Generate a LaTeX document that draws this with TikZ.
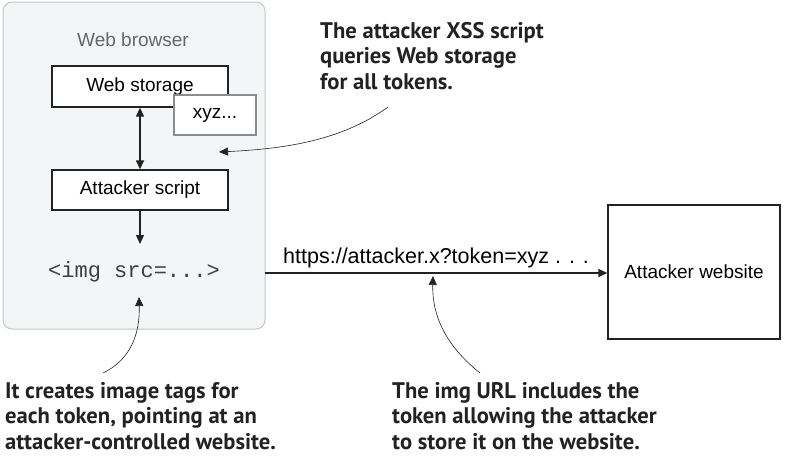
\documentclass[tikz,border=0pt]{standalone}
\usepackage{fontspec}
\setmainfont{Liberation Sans}
\setmonofont{Liberation Mono}
\newfontfamily\callfont{PT Sans}
\usetikzlibrary{arrows.meta}
\definecolor{bfill}{HTML}{F4F5F6}
\definecolor{bline}{HTML}{C4C6C8}
\definecolor{dark}{HTML}{222222}
\begin{document}
\begin{tikzpicture}[x=1pt,y=-1pt,
  box/.style={draw=dark,line width=1.3pt,fill=white,inner sep=0pt},
  conn/.style={draw=dark,line width=1.3pt,-{Triangle[length=9pt,width=8pt]}},
  callout/.style={draw=dark,line width=0.6pt,-{Triangle[length=9pt,width=8pt]}},
  lbl/.style={font=\fontsize{19}{22}\selectfont,text=black},
  note/.style={font=\callfont\bfseries\fontsize{22.6}{25.5}\selectfont,text=dark,align=left,inner sep=0pt}]
\useasboundingbox (0,0) rectangle (789,461);
% browser
\draw[draw=bline,fill=bfill,line width=1pt,rounded corners=9pt] (3,2) rectangle (265,329);
\node[lbl,text=black!60] (wb) at (133,40) {Web browser};
\node[box,minimum width=176pt,minimum height=41pt,lbl] (ws) at (140,86.5) {\raisebox{4pt}{Web storage}};
\node[draw=black!45,line width=1.2pt,fill=white,minimum width=82pt,minimum height=40pt,lbl,inner sep=0pt] (xyz) at (215,115) {xyz...};
\node[box,minimum width=176pt,minimum height=40pt,lbl] (as) at (140,190) {Attacker script};
\node[font=\ttfamily\fontsize{22}{26}\selectfont,text=black!75] (img) at (134,272) {<img src=...>};
\coordinate (imgtop) at (140,244);
\draw[conn,{Triangle[length=9pt,width=8pt]}-{Triangle[length=9pt,width=8pt]}] (ws.south -| 140,0) -- (as.north -| 140,0);
\draw[conn] (as.south -| 140,0) -- (imgtop);
% website
\node[box,minimum width=172pt,minimum height=134pt,lbl] (site) at (694,272) {Attacker website};
\coordinate (bx) at (265,273);
\draw[conn] (bx) -- (site.west |- bx);
\node[lbl,font=\fontsize{21.5}{24}\selectfont,inner sep=0pt,anchor=base west] (url) at (283,263) {https://attacker.x?token=xyz . . .};
% notes
\node[note,anchor=north west] (n1) at (320,22) {The attacker XSS script\\queries Web storage\\for all tokens.};
\node[note,anchor=north west] (n2) at (5,382) {It creates image tags for\\each token, pointing at an\\attacker-controlled website.};
\node[note,anchor=north west] (n3) at (392,382) {The img URL includes the\\token allowing the attacker\\to store it on the website.};
\coordinate (c1) at (388,107);
\coordinate (e1) at (219,152);
\coordinate (c2) at (103,373);
\coordinate (e2) at (139,297);
\coordinate (c3) at (480,373);
\coordinate (e3) at (433,276);
\draw[callout] (c1) .. controls (340,142) and (280,149) .. (e1);
\draw[callout] (c2) .. controls (130,360) and (140,335) .. (e2);
\draw[callout] (c3) .. controls (445,345) and (432,315) .. (e3);
\end{tikzpicture}
\end{document}
